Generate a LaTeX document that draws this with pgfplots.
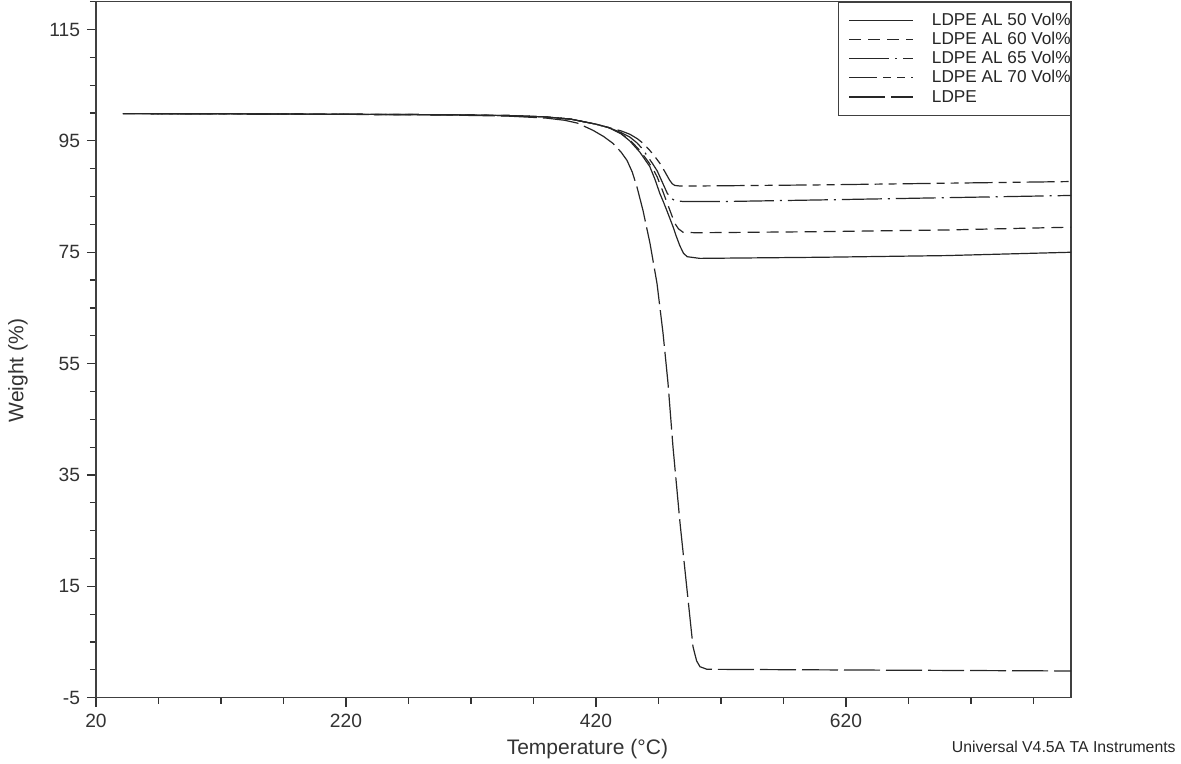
\documentclass[border=0pt]{standalone}
\usepackage{fontspec}
\setmainfont{Liberation Sans}
\usepackage{pgfplots}
\pgfplotsset{compat=1.18}
\begin{document}
\begin{tikzpicture}
\path[use as bounding box] (-48pt,-33pt) rectangle (542.5pt,348.85pt);
\begin{axis}[
  at={(0,0)}, anchor=south west,
  scale only axis, width=487.5pt, height=348pt,
  xmin=20, xmax=800, ymin=-5, ymax=120,
  xtick={20,220,420,620}, minor xtick={70,120,...,770},
  ytick={-5,15,...,115}, minor ytick={0,5,...,120},
  xtick pos=left, ytick pos=left, tick align=outside,
  major tick length=4.5pt, minor tick length=3pt,
  every tick/.style={black!80, line width=0.6pt},
  axis line style={black!75, line width=0.7pt},
  tick label style={font=\fontsize{9.6}{11}\selectfont, text=black!80},
  /pgf/number format/assume math mode=true,
  xlabel={Temperature (°C)}, ylabel={Weight (\%)},
  label style={font=\fontsize{10.5}{12}\selectfont, text=black!80},
  xlabel style={at={(axis description cs:0.504,-0.0733)}, anchor=center},
  ylabel style={at={(axis description cs:-0.08,0.47)}, anchor=center},
  legend style={at={(1,1)}, anchor=north east, draw=black!75,
    font=\fontsize{8.6}{9.5}\selectfont, text=black!85,
    inner xsep=0pt, inner ysep=5.1pt, row sep=1.6pt, column sep=9pt,
    nodes={inner xsep=0pt, inner ysep=0pt, text height=6.5pt, text depth=1.5pt},
    cells={anchor=west}},
  legend image code/.code={\path (0pt,0pt); \draw[#1] (5pt,0pt) -- (37pt,0pt);},
  every axis plot/.append style={black!85, line width=0.6pt},
]
\addplot[solid] coordinates {(41.6,99.9) (100,99.88) (200,99.8) (300,99.7) (350,99.55) (380,99.3) (400,98.9) (420,98.0) (430,97.4) (440,96.3) (447,95.0) (455,93.0) (463,90.4) (467,88.2) (471,85.6) (474,84.0) (477,82.3) (481.6,79.6) (484,78.0) (487,76.2) (490,74.8) (493,74.2) (503,73.9) (600,74.1) (700,74.4) (800,75.0)};
\addlegendentry{LDPE AL 50 Vol\%}
\addplot[dash pattern=on 6pt off 3.5pt] coordinates {(41.6,99.9) (100,99.88) (200,99.8) (300,99.7) (350,99.55) (380,99.3) (400,98.9) (420,98.0) (430,97.4) (440,96.3) (447,95.2) (455,93.3) (462,91.2) (466,89.8) (469,88.5) (473,86.2) (477,83.8) (480,82.0) (483,80.2) (486,79.2) (489.6,78.6) (500,78.5) (600,78.7) (700,79.0) (800,79.5)};
\addlegendentry{LDPE AL 60 Vol\%}
\addplot[dash pattern=on 20pt off 3pt on 1pt off 3pt] coordinates {(41.6,99.9) (100,99.88) (200,99.8) (300,99.7) (350,99.55) (380,99.3) (400,98.9) (420,98.0) (430,97.4) (440,96.5) (447,95.7) (453,94.6) (457,93.6) (461,92.3) (465,91.0) (469,89.6) (473,87.6) (477,85.6) (480,84.7) (483,84.3) (490,84.1) (520,84.1) (600,84.4) (700,84.8) (800,85.2)};
\addlegendentry{LDPE AL 65 Vol\%}
\addplot[dash pattern=on 14pt off 3pt on 4pt off 3pt on 4pt off 3pt] coordinates {(41.6,99.9) (100,99.88) (200,99.8) (300,99.7) (350,99.55) (380,99.3) (400,98.9) (420,98.0) (430,97.4) (440,96.8) (447,96.2) (453,95.4) (458,94.5) (463,93.3) (467,92.2) (471,91.0) (475,89.5) (479,87.9) (481,87.3) (483,87.0) (487,86.9) (500,86.9) (600,87.1) (700,87.4) (800,87.7)};
\addlegendentry{LDPE AL 70 Vol\%}
\addplot[dash pattern=on 18pt off 3pt] coordinates {(41.6,99.9) (100,99.88) (200,99.8) (300,99.65) (350,99.45) (380,99.1) (395,98.7) (405,98.2) (417.6,96.9) (426,95.8) (433.6,94.55) (440,93.0) (444.8,91.5) (449,89.4) (452.8,86.7) (457.6,82.5) (463.2,76.6) (468.8,69.4) (473.6,60.5) (477.6,51.5) (481.6,40.0) (487.2,26.4) (492.8,14.4) (497.6,4.15) (500.5,1.6) (503.2,0.56) (508.8,0.1) (600,0.0) (700,-0.1) (800,-0.2)};
\addlegendentry{LDPE}
\end{axis}
\node[anchor=east, inner sep=0pt, font=\fontsize{7.9}{9}\selectfont, text=black!85] at (540pt,-24.5pt) {Universal V4.5A TA Instruments};
\end{tikzpicture}
\end{document}
